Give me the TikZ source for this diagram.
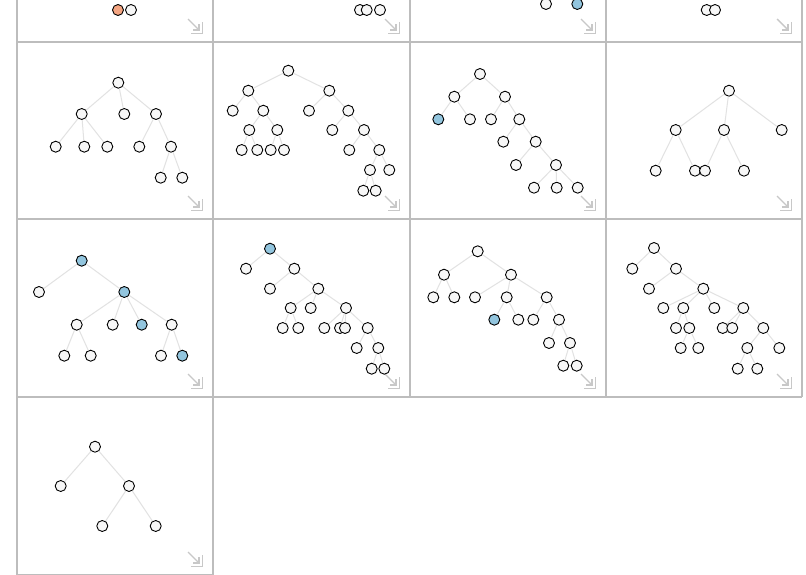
\documentclass[tikz,border=0pt]{standalone}
\definecolor{nodefill}{HTML}{F7F7F7}
\definecolor{bluefill}{HTML}{92C5DE}
\definecolor{orangefill}{HTML}{F4A582}
\definecolor{edgecol}{HTML}{E2E2E2}
\definecolor{framecol}{HTML}{BDBDBD}
\definecolor{iconcol}{HTML}{C8C8C8}
\tikzset{
  nd/.style={circle,draw=black,line width=0.9pt,fill=nodefill,minimum size=11pt,inner sep=0pt},
  bl/.style={nd,fill=bluefill},
  orr/.style={nd,fill=orangefill},
  ed/.style={draw=edgecol,line width=1pt},
  frame/.style={draw=framecol,line width=1.3pt},
  cornericon/.pic={
    \draw[iconcol,line width=1.4pt] (-25,-23) -- (-14,-12);
    \draw[iconcol,line width=1.4pt] (-20,-12) -- (-14,-12) -- (-14,-18);
    \draw[iconcol,line width=1.4pt] (-22,-8.5) -- (-10.5,-8.5) -- (-10.5,-20);
  }
}
\begin{document}
\begin{tikzpicture}[x=1pt,y=-1pt]
\useasboundingbox (0,0) rectangle (806,575);
\fill[white] (0,0) rectangle (806,575);
% frames
\draw[frame] (17,0) -- (17,574.5);
\draw[frame] (213,0) -- (213,574.5);
\draw[frame] (410,0) -- (410,397);
\draw[frame] (606,0) -- (606,397);
\draw[frame] (802,0) -- (802,397);
\draw[frame] (17,42) -- (802,42);
\draw[frame] (17,219) -- (802,219);
\draw[frame] (17,397) -- (802,397);
\draw[frame] (17,574.5) -- (213,574.5);
% icons
\foreach \r in {213,410,606,802}{
  \foreach \b in {42,219,397}{
    \pic at (\r,\b) {cornericon};
  }
}
\pic at (213,575) {cornericon};

% row 1 (cut off)
\node[orr] (a0) at (118,10) {};
\node[nd] (a1) at (131,10) {};
\node[nd] (b0) at (360,10) {};
\node[nd] (b1) at (366.7,10) {};
\node[nd] (b2) at (380,10) {};
\node[nd] (c0) at (546,4) {};
\node[bl] (c1) at (577.3,4) {};
\node[nd] (d0) at (706.7,10) {};
\node[nd] (d1) at (715,10) {};

% R2C1
\node[nd] (e0) at (118.3,82.7) {};
\node[nd] (e1) at (81.7,114) {};
\node[nd] (e2) at (124.3,114) {};
\node[nd] (e3) at (156,114) {};
\node[nd] (e4) at (55.7,146.7) {};
\node[nd] (e5) at (84.3,146.7) {};
\node[nd] (e6) at (107.3,146.7) {};
\node[nd] (e7) at (139.3,146.7) {};
\node[nd] (e8) at (171,146.7) {};
\node[nd] (e9) at (160.7,177.7) {};
\node[nd] (e10) at (182.3,177.7) {};
\foreach \p/\c in {e0/e1,e0/e2,e0/e3,e1/e4,e1/e5,e1/e6,e3/e7,e3/e8,e8/e9,e8/e10}
  \draw[ed] (\p) -- (\c);

% R2C2
\node[nd] (f0) at (288.3,70.7) {};
\node[nd] (f1) at (248.3,90.7) {};
\node[nd] (f2) at (329.3,90.7) {};
\node[nd] (f3) at (232.7,110.7) {};
\node[nd] (f4) at (263.3,110.7) {};
\node[nd] (f5) at (309,110.7) {};
\node[nd] (f6) at (348.3,110.7) {};
\node[nd] (f7) at (249.3,130) {};
\node[nd] (f8) at (277.3,130) {};
\node[nd] (f9) at (332.3,130) {};
\node[nd] (f10) at (364,130) {};
\node[nd] (f11) at (241.7,150) {};
\node[nd] (f12) at (257.3,150) {};
\node[nd] (f13) at (270.7,150) {};
\node[nd] (f14) at (284,150) {};
\node[nd] (f15) at (349.3,150) {};
\node[nd] (f16) at (379.3,150) {};
\node[nd] (f17) at (370,170) {};
\node[nd] (f18) at (389.3,170) {};
\node[nd] (f19) at (363.3,190.7) {};
\node[nd] (f20) at (375.7,190.7) {};
\foreach \p/\c in {f0/f1,f0/f2,f1/f3,f1/f4,f4/f7,f4/f8,f7/f11,f7/f12,f8/f13,f8/f14,f2/f5,f2/f6,f6/f9,f6/f10,f10/f15,f10/f16,f16/f17,f16/f18,f17/f19,f17/f20}
  \draw[ed] (\p) -- (\c);

% R2C3
\node[nd] (g0) at (480,74) {};
\node[nd] (g1) at (454.3,96.7) {};
\node[nd] (g2) at (505,96.7) {};
\node[bl] (g3) at (438.3,119.3) {};
\node[nd] (g4) at (470,119.3) {};
\node[nd] (g5) at (491,119.3) {};
\node[nd] (g6) at (519.3,119.3) {};
\node[nd] (g7) at (503.3,141.7) {};
\node[nd] (g8) at (535.7,141.7) {};
\node[nd] (g9) at (516,165) {};
\node[nd] (g10) at (556,165) {};
\node[nd] (g11) at (534,187.7) {};
\node[nd] (g12) at (556.7,187.7) {};
\node[nd] (g13) at (577.7,187.7) {};
\foreach \p/\c in {g0/g1,g0/g2,g1/g3,g1/g4,g2/g5,g2/g6,g6/g7,g6/g8,g8/g9,g8/g10,g10/g11,g10/g12,g10/g13}
  \draw[ed] (\p) -- (\c);

% R2C4
\node[nd] (h0) at (729,90.7) {};
\node[nd] (h1) at (675.7,130) {};
\node[nd] (h2) at (724,130) {};
\node[nd] (h3) at (781.7,130) {};
\node[nd] (h4) at (655.7,170.7) {};
\node[nd] (h5) at (695,170.7) {};
\node[nd] (h6) at (705,170.7) {};
\node[nd] (h7) at (744,170.7) {};
\foreach \p/\c in {h0/h1,h0/h2,h0/h3,h1/h4,h1/h5,h2/h6,h2/h7}
  \draw[ed] (\p) -- (\c);

% R3C1
\node[bl] (i0) at (81.7,260.7) {};
\node[nd] (i1) at (39,292) {};
\node[bl] (i2) at (124.3,292) {};
\node[nd] (i3) at (76.7,324.7) {};
\node[nd] (i4) at (112.7,324.7) {};
\node[bl] (i5) at (141.7,324.7) {};
\node[nd] (i6) at (171.7,324.7) {};
\node[nd] (i7) at (64.3,355.7) {};
\node[nd] (i8) at (90.7,355.7) {};
\node[nd] (i9) at (161,355.7) {};
\node[bl] (i10) at (182.3,355.7) {};
\foreach \p/\c in {i0/i1,i0/i2,i2/i3,i2/i4,i2/i5,i2/i6,i3/i7,i3/i8,i6/i9,i6/i10}
  \draw[ed] (\p) -- (\c);

% R3C2
\node[bl] (j0) at (270,248.7) {};
\node[nd] (j1) at (246,268.7) {};
\node[nd] (j2) at (294.3,268.7) {};
\node[nd] (j3) at (270,288.7) {};
\node[nd] (j4) at (318.3,288.7) {};
\node[nd] (j5) at (290.7,308) {};
\node[nd] (j6) at (310.7,308) {};
\node[nd] (j7) at (346,308) {};
\node[nd] (j8) at (282.7,328) {};
\node[nd] (j9) at (298.3,328) {};
\node[nd] (j10) at (324.3,328) {};
\node[nd] (j11) at (340,328) {};
\node[nd] (j12) at (345,328) {};
\node[nd] (j13) at (367.7,328) {};
\node[nd] (j14) at (356.7,348) {};
\node[nd] (j15) at (378.3,348) {};
\node[nd] (j16) at (371.7,368.7) {};
\node[nd] (j17) at (384.3,368.7) {};
\foreach \p/\c in {j0/j1,j0/j2,j2/j3,j2/j4,j4/j5,j4/j6,j4/j7,j5/j8,j5/j9,j7/j10,j7/j11,j7/j12,j7/j13,j13/j14,j13/j15,j15/j16,j15/j17}
  \draw[ed] (\p) -- (\c);

% R3C3
\node[nd] (k0) at (477.7,251.3) {};
\node[nd] (k1) at (444,274.7) {};
\node[nd] (k2) at (511,274.7) {};
\node[nd] (k3) at (433.3,297.3) {};
\node[nd] (k4) at (454.3,297.3) {};
\node[nd] (k5) at (475,297.3) {};
\node[nd] (k6) at (506.7,297.3) {};
\node[nd] (k7) at (546.7,297.3) {};
\node[bl] (k8) at (494.3,319.7) {};
\node[nd] (k9) at (518.3,319.7) {};
\node[nd] (k10) at (533.3,319.7) {};
\node[nd] (k11) at (559,319.7) {};
\node[nd] (k12) at (549,343) {};
\node[nd] (k13) at (570,343) {};
\node[nd] (k14) at (563.3,365.7) {};
\node[nd] (k15) at (576.7,365.7) {};
\foreach \p/\c in {k0/k1,k0/k2,k1/k3,k1/k4,k2/k5,k2/k6,k2/k7,k6/k8,k6/k9,k7/k10,k7/k11,k11/k12,k11/k13,k13/k14,k13/k15}
  \draw[ed] (\p) -- (\c);

% R3C4
\node[nd] (l0) at (654,248) {};
\node[nd] (l1) at (632.3,268.7) {};
\node[nd] (l2) at (676,268.7) {};
\node[nd] (l3) at (649,288.7) {};
\node[nd] (l4) at (703.3,288.7) {};
\node[nd] (l5) at (663.3,308) {};
\node[nd] (l6) at (683.3,308) {};
\node[nd] (l7) at (714.3,308) {};
\node[nd] (l8) at (743.3,308) {};
\node[nd] (l9) at (676,328) {};
\node[nd] (l10) at (689.3,328) {};
\node[nd] (l11) at (722.7,328) {};
\node[nd] (l12) at (732.3,328) {};
\node[nd] (l13) at (763.3,328) {};
\node[nd] (l14) at (680.7,348) {};
\node[nd] (l15) at (698.3,348) {};
\node[nd] (l16) at (747.3,348) {};
\node[nd] (l17) at (779.3,348) {};
\node[nd] (l18) at (737.7,368.7) {};
\node[nd] (l19) at (757.3,368.7) {};
\foreach \p/\c in {l0/l1,l0/l2,l2/l3,l2/l4,l4/l5,l4/l6,l4/l7,l4/l8,l6/l9,l6/l10,l10/l14,l10/l15,l8/l11,l8/l12,l8/l13,l13/l16,l13/l17,l16/l18,l16/l19}
  \draw[ed] (\p) -- (\c);

% R4C1
\node[nd] (m0) at (95,446.7) {};
\node[nd] (m1) at (60.7,486) {};
\node[nd] (m2) at (129,486) {};
\node[nd] (m3) at (102.3,526) {};
\node[nd] (m4) at (155.7,526) {};
\foreach \p/\c in {m0/m1,m0/m2,m2/m3,m2/m4}
  \draw[ed] (\p) -- (\c);
\end{tikzpicture}
\end{document}
